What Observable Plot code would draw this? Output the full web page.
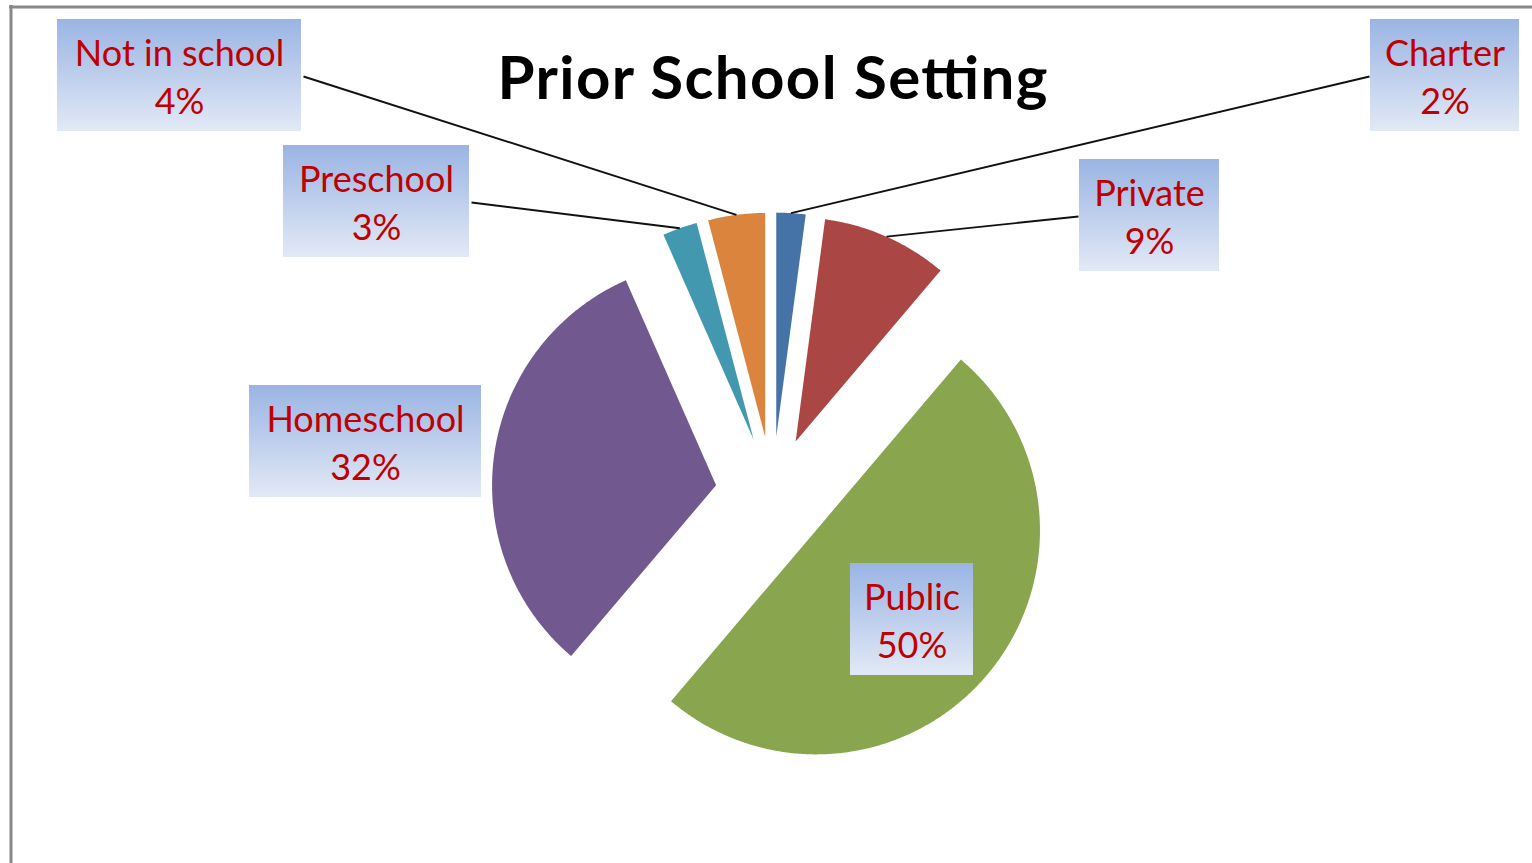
<!DOCTYPE html>
<html><head><meta charset="utf-8">
<script src="https://cdn.jsdelivr.net/npm/d3@7"></script>
<script src="https://cdn.jsdelivr.net/npm/@observablehq/plot@0.6"></script>
<style>html,body{margin:0;padding:0;background:#fff;overflow:hidden}</style>
</head><body><div id="chart"></div>
<script>
// ---- data ----
const title = "Prior School Setting";
const categories = ["Charter", "Private", "Public", "Homeschool", "Preschool", "Not in school"];
const values = [2.1, 9.1, 50.0, 32.2, 2.5, 4.1];
const colors = ["#4572A7", "#AA4643", "#89A54E", "#71588F", "#4198AF", "#DB843D"];

// ---- layout (positions / sizes) ----
const W = 1532, H = 863;
const pieCenter = [772, 493], pieRadius = 224, explode = 57;
const boxCX = [1444.5, 1149, 911.5, 365, 376, 179];
const boxCY = [75, 215, 619, 441, 201, 75];
const boxW = [149, 140, 123, 232, 186, 244];
const boxH = 112;
const leaderSide = [-1, -1, 0, 0, 1, 1]; // -1: leader leaves box's left edge, 1: right edge, 0: none
const labelFont = "Lato, 'Liberation Sans', sans-serif";

// ---- geometry from values ----
const total = d3.sum(values);
const arcs = d3.pie().sort(null).value(d => d)(values);
const slicePts = [];
const anchors = [];
arcs.forEach((p, i) => {
  const mid = (p.startAngle + p.endAngle) / 2;
  const ax = pieCenter[0] + explode * Math.sin(mid);
  const ay = pieCenter[1] - explode * Math.cos(mid);
  slicePts.push({name: categories[i], x: ax, y: ay});
  const n = Math.max(2, Math.ceil((p.endAngle - p.startAngle) / (Math.PI / 360)));
  for (let k = 0; k <= n; k++) {
    const a = p.startAngle + (p.endAngle - p.startAngle) * k / n;
    slicePts.push({name: categories[i], x: ax + pieRadius * Math.sin(a), y: ay - pieRadius * Math.cos(a)});
  }
  anchors.push({x: ax + pieRadius * Math.sin(mid), y: ay - pieRadius * Math.cos(mid)});
});

const labels = categories.map((c, i) => ({
  name: c,
  pct: Math.round(values[i] / total * 100) + "%",
  cx: boxCX[i], cy: boxCY[i], w: boxW[i], side: leaderSide[i]
}));
const leaders = labels.map((l, i) => ({...l, ax: anchors[i].x, ay: anchors[i].y})).filter(l => l.side !== 0);

const defs = () => {
  const g = d3.create("svg:defs");
  const lg = g.append("linearGradient").attr("id", "lblGrad")
    .attr("x1", 0).attr("y1", 0).attr("x2", 0).attr("y2", 1);
  lg.append("stop").attr("offset", "0%").attr("stop-color", "#9AB4E3");
  lg.append("stop").attr("offset", "100%").attr("stop-color", "#E2E9F6");
  return g.node();
};

const plot = Plot.plot({
  width: W, height: H,
  marginTop: 0, marginRight: 0, marginBottom: 0, marginLeft: 0,
  x: {domain: [0, W], range: [0, W], axis: null},
  y: {domain: [0, H], range: [0, H], axis: null},
  color: {domain: categories, range: colors},
  style: {background: "#fff"},
  marks: [
    defs,
    Plot.ruleX([10.5], {y1: 5, y2: H, stroke: "#888", strokeWidth: 3}),
    Plot.ruleY([6.5], {x1: 9, x2: W, stroke: "#888", strokeWidth: 3}),
    Plot.line(slicePts, {x: "x", y: "y", z: "name", fill: "name", stroke: "none"}),
    Plot.link(leaders, {
      x1: d => d.side < 0 ? d.cx - d.w / 2 - 1 : d.cx + d.w / 2 + 2,
      y1: d => d.cy + 1,
      x2: "ax", y2: "ay",
      stroke: "#111", strokeWidth: 1.9
    }),
    Plot.rect(labels, {
      x1: d => d.cx - d.w / 2, x2: d => d.cx + d.w / 2,
      y1: d => d.cy - boxH / 2, y2: d => d.cy + boxH / 2,
      fill: "url(#lblGrad)"
    }),
    Plot.text(labels, {x: "cx", y: d => d.cy - 10, text: "name", lineAnchor: "bottom",
      fill: "#C00000", fontSize: 36, fontFamily: labelFont}),
    Plot.text(labels, {x: "cx", y: d => d.cy + 38, text: "pct", lineAnchor: "bottom",
      fill: "#C00000", fontSize: 36, fontFamily: labelFont}),
    Plot.text([title], {x: 772, y: 98, text: d => d, lineAnchor: "bottom", className: "chart-title",
      fill: "#000", fontSize: 60, fontWeight: "bold", fontFamily: "Lato, 'Liberation Sans', sans-serif"})
  ]
});
d3.select(plot).selectAll("g.chart-title text")
  .attr("textLength", 550).attr("lengthAdjust", "spacing");
document.getElementById("chart").appendChild(plot);
</script>
</body></html>
